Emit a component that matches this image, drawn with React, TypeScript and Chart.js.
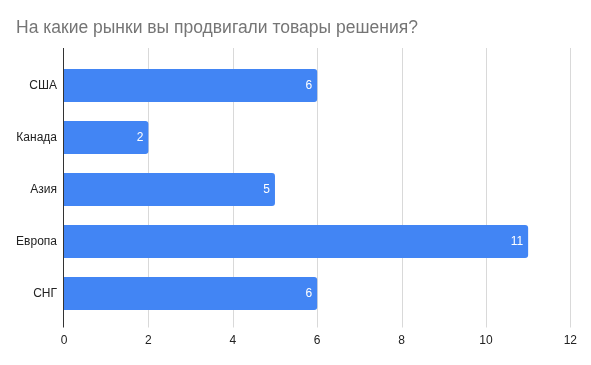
import React, { useEffect, useRef } from "react";
import { Chart, registerables } from "chart.js";

Chart.register(...registerables);

const TITLE = "На какие рынки вы продвигали товары решения?";
const categories = ["США", "Канада", "Азия", "Европа", "СНГ"];
const values = [6, 2, 5, 11, 6];
const xTicksMin = 0;
const xTicksMax = 12;
const xTickStep = 2;

const FONT = "Arial, 'Liberation Sans', Helvetica, sans-serif";
const BAR_COLOR = "#4285F4";

const gridPlugin = {
  id: "customGrid",
  beforeDatasetsDraw(chart: any) {
    const { ctx, chartArea, scales } = chart;
    const xs = scales.x;
    ctx.save();
    ctx.lineWidth = 1;
    for (const t of xs.ticks) {
      if (t.value === 0) continue;
      const px = Math.round(xs.getPixelForValue(t.value)) + 0.5;
      ctx.strokeStyle = "#d9d9d9";
      ctx.beginPath();
      ctx.moveTo(px, chartArea.top - 11.5);
      ctx.lineTo(px, chartArea.bottom + 8);
      ctx.stroke();
    }
    ctx.restore();
  },
  afterDatasetsDraw(chart: any) {
    const { ctx, chartArea, scales } = chart;
    const xs = scales.x;
    ctx.save();
    const px = Math.round(xs.getPixelForValue(0)) - 0.5;
    ctx.strokeStyle = "#333333";
    ctx.lineWidth = 1;
    ctx.beginPath();
    ctx.moveTo(px, chartArea.top - 11.5);
    ctx.lineTo(px, chartArea.bottom + 8);
    ctx.stroke();
    // data labels
    const meta = chart.getDatasetMeta(0);
    ctx.fillStyle = "#ffffff";
    ctx.font = `12px ${FONT}`;
    ctx.textAlign = "right";
    ctx.textBaseline = "middle";
    meta.data.forEach((el: any, i: number) => {
      const v = chart.data.datasets[0].data[i];
      ctx.fillText(String(v), el.x - 5, el.y + 0.5);
    });
    ctx.restore();
  },
};

export default function App() {
  const ref = useRef<HTMLCanvasElement | null>(null);
  useEffect(() => {
    if (!ref.current) return;
    const chart = new Chart(ref.current, {
      type: "bar",
      data: {
        labels: categories,
        datasets: [
          {
            data: values,
            backgroundColor: BAR_COLOR,
            borderRadius: 3,
            borderSkipped: "start",
            barPercentage: 0.635,
            categoryPercentage: 1,
          },
        ],
      },
      options: {
        indexAxis: "y",
        animation: false,
        responsive: false,
        devicePixelRatio: 1,
        layout: { padding: { left: 16, right: 18.5, top: 0, bottom: 0 } },
        plugins: {
          legend: { display: false },
          tooltip: { enabled: false },
          title: {
            display: true,
            text: TITLE,
            align: "start",
            color: "#757575",
            font: { family: FONT, size: 17.5, weight: "normal" },
            padding: { top: 18, bottom: 20.5 },
          },
        },
        scales: {
          x: {
            type: "linear",
            min: xTicksMin,
            max: xTicksMax,
            ticks: {
              stepSize: xTickStep,
              color: "#222222",
              font: { family: FONT, size: 12 },
              padding: 14,
            },
            grid: { display: false, drawTicks: false },
            border: { display: false },
            afterFit: (s: any) => {
              s.height = 45.5;
            },
          },
          y: {
            type: "category",
            ticks: {
              color: "#222222",
              font: { family: FONT, size: 12 },
              padding: 7,
            },
            grid: { display: false, drawTicks: false },
            border: { display: false },
            afterFit: (s: any) => {
              s.width = 48;
            },
          },
        },
      },
      plugins: [gridPlugin],
    });
    return () => chart.destroy();
  }, []);
  return (
    <div style={{ position: "fixed", left: 0, top: 0, width: 591, height: 365, background: "#fff" }}>
      <canvas ref={ref} width={591} height={365} />
    </div>
  );
}
